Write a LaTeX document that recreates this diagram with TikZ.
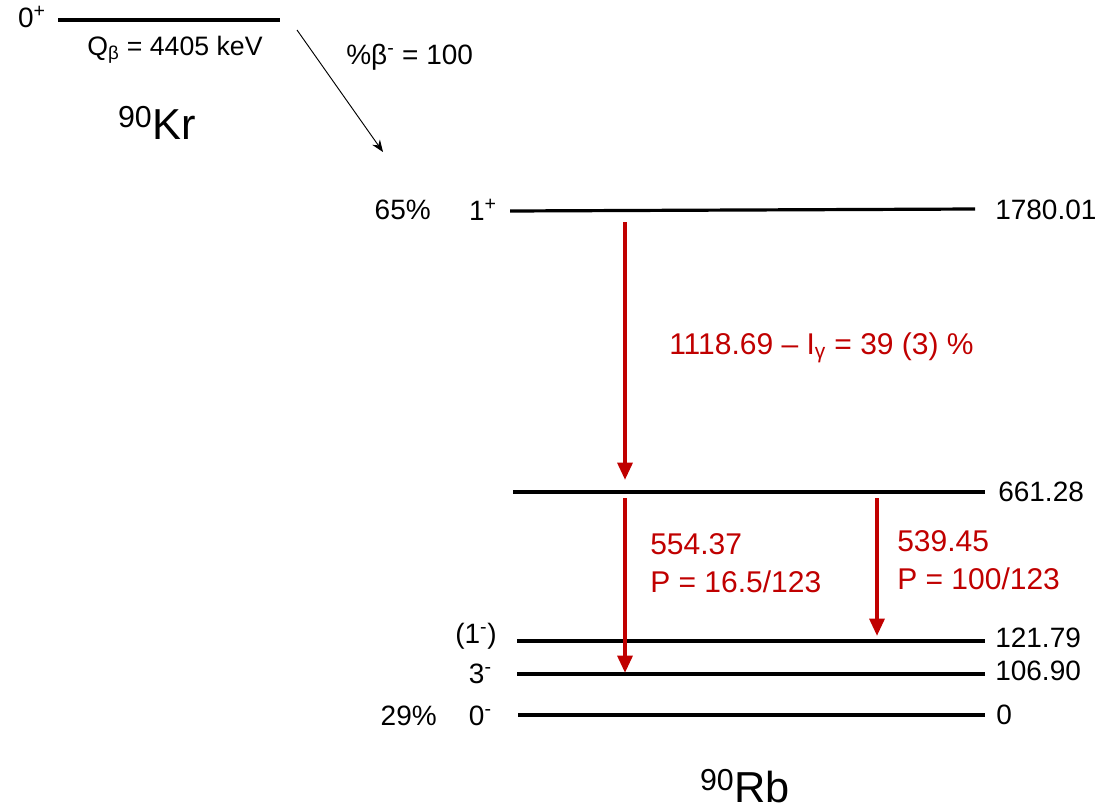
\documentclass[tikz,border=0pt]{standalone}
\usepackage{fontspec}
\setmainfont{Liberation Sans}
\usetikzlibrary{arrows.meta}
\definecolor{gred}{HTML}{C00000}
\begin{document}
\begin{tikzpicture}[x=0.75pt,y=-0.75pt,
  lvl/.style={line width=2.4pt},
  lvlthick/.style={line width=3.6pt},
  lab/.style={inner sep=0pt,font=\fontsize{21}{25}\selectfont},
  rlab/.style={inner sep=0pt,font=\fontsize{22.5}{26}\selectfont,text=gred,align=left},
  gam/.style={gred,line width=3pt,-{Triangle[width=11pt,length=13pt]}},
  nuc/.style={inner sep=0pt,font=\fontsize{32.5}{38}\selectfont}]
\useasboundingbox (0,0) rectangle (1102,810);
% 90Kr
\draw[lvlthick] (58,20) coordinate (kA) -- (280,20) coordinate (kB);
\node[lab,anchor=east] (kJ) at (46,17) {0\textsuperscript{+}};
\node[lab,anchor=north,font=\fontsize{20}{23}\selectfont] (qb) at (175,36) {Q\textsubscript{β} = 4405 keV};
\node[nuc] (kr) at (157,123) {\textsuperscript{90}Kr};
% beta branch
\coordinate (bS) at (297,30);
\coordinate (bE) at (383,152);
\draw[line width=0.7pt,-{Stealth[width=7pt,length=9pt]}] (bS) -- (bE);
\node[lab,anchor=west] (bl) at (346,57) {\%β\textsuperscript{-} = 100};
% levels of 90Rb
\draw[lvl] (510,211) coordinate (l1a) -- (975,209) coordinate (l1b);
\node[lab,anchor=west] (e1) at (995,210) {1780.01};
\node[lab,anchor=east] (j1) at (497,210) {1\textsuperscript{+}};
\node[lab,anchor=east] (i1) at (431,210) {65\%};
\draw[lvl] (513,492) coordinate (l2a) -- (985,492) coordinate (l2b);
\node[lab,anchor=west] (e2) at (998,492) {661.28};
\draw[lvl] (517,641) coordinate (l3a) -- (985,641) coordinate (l3b);
\node[lab,anchor=west] (e3) at (995,638) {121.79};
\node[lab,anchor=east] (j3) at (497,636) {(1\textsuperscript{-})};
\draw[lvl] (517,674) coordinate (l4a) -- (985,674) coordinate (l4b);
\node[lab,anchor=west] (e4) at (995,671) {106.90};
\node[lab,anchor=east] (j4) at (492,674) {3\textsuperscript{-}};
\draw[lvlthick] (518,715) coordinate (l5a) -- (985,715) coordinate (l5b);
\node[lab,anchor=west] (e5) at (996,715) {0};
\node[lab,anchor=east] (j5) at (492,716) {0\textsuperscript{-}};
\node[lab,anchor=east] (i5) at (437,716) {29\%};
\node[nuc] (rb) at (745,786) {\textsuperscript{90}Rb};
% gamma transitions
\coordinate (g1s) at (625,222);
\coordinate (g1e) at (625,480);
\draw[gam] (g1s) -- (g1e);
\node[rlab,anchor=west] (g1l) at (669,348) {1118.69 – I\textsubscript{γ} = 39 (3) \%};
\coordinate (g2s) at (625,498);
\coordinate (g2e) at (625,673);
\draw[gam] (g2s) -- (g2e);
\node[rlab,anchor=north west] (g2l) at (650,533) {554.37\\[3pt]P = 16.5/123};
\coordinate (g3s) at (877,498);
\coordinate (g3e) at (877,636);
\draw[gam] (g3s) -- (g3e);
\node[rlab,anchor=north west] (g3l) at (897,530) {539.45\\[3pt]P = 100/123};
\end{tikzpicture}
\end{document}
